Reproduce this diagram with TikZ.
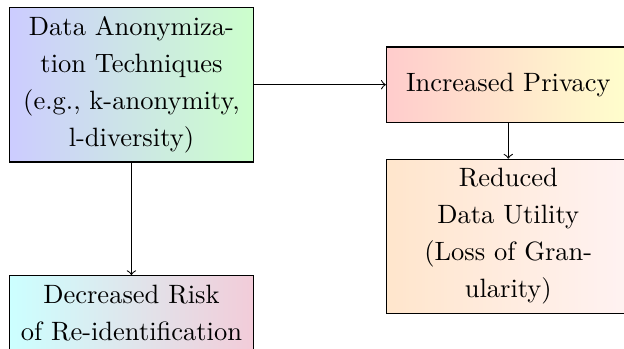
\documentclass[tikz,border=0pt]{standalone}
\usepackage{tikz}
\usetikzlibrary{positioning}

\begin{document}
\begin{tikzpicture}[
    box/.style={draw, align=center, text width=3cm, minimum height=1cm,
        font=\fontsize{10}{14}\selectfont},
    ]
    \clip (-3.4pt,2.6pt) rectangle (232.1pt,-129.1pt);
    \node[box, anchor=north west, left color=blue!20, right color=green!20] (anon) at (0,0)
        {Data Anonymization Techniques (e.g., k-anonymity, l-diversity)};
    \node[box, right=1.75cm of anon, left color=red!20, right color=yellow!20] (incr)
        {Increased Privacy};
    \node[box, below=13.5pt of incr, left color=orange!20, right color=red!5] (util)
        {Reduced\\Data Utility\\(Loss of Gran-\\ularity)};
    \node[box, below=42.5pt of anon, left color=cyan!20, right color=purple!20] (risk)
        {Decreased Risk\\of Re-identification};
    \draw[->] (anon) -- (incr);
    \draw[->] (incr) -- (util);
    \draw[->] (anon) -- (risk);
\end{tikzpicture}
\end{document}
